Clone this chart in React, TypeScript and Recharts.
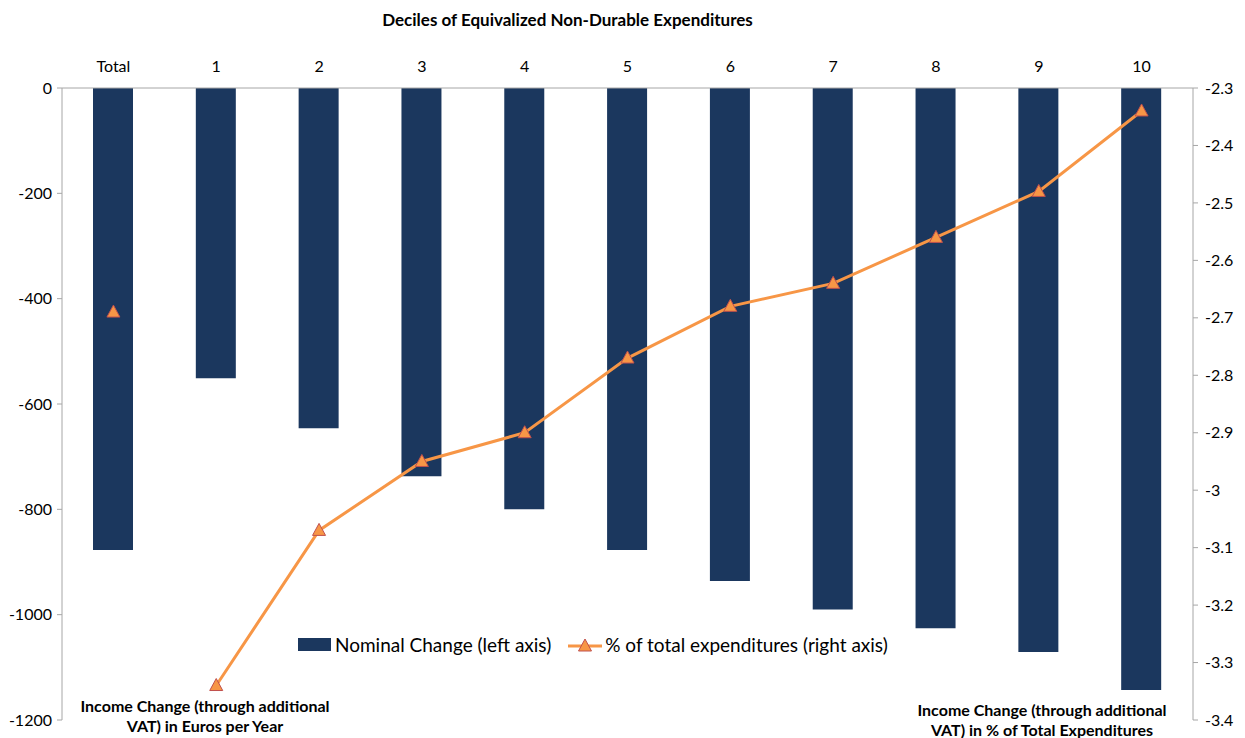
import React from 'react';
import { ComposedChart, Bar, Line, XAxis, YAxis } from 'recharts';

const categories = ['Total', '1', '2', '3', '4', '5', '6', '7', '8', '9', '10'];
const nominalChange = [-877, -551, -646, -737, -800, -877, -936, -990, -1026, -1071, -1143];
const pctOfExpenditures = [-2.69, -3.34, -3.07, -2.95, -2.9, -2.77, -2.68, -2.64, -2.56, -2.48, -2.34];
const leftTicks = [0, -200, -400, -600, -800, -1000, -1200];
const rightTicks = [-2.3, -2.4, -2.5, -2.6, -2.7, -2.8, -2.9, -3, -3.1, -3.2, -3.3, -3.4];

const BAR = '#1b375e';
const LINE = '#f79646';
const MARK_STROKE = '#c0504d';
const AXIS = '#a6a6a6';
const FONT = 'Lato, "Open Sans", sans-serif';

// Total gets its own marker without a connecting segment
const data = categories.map((c, i) => ({
  name: c,
  nominal: nominalChange[i],
  pct: i === 0 ? null : pctOfExpenditures[i],
  totalPct: i === 0 ? pctOfExpenditures[i] : null,
}));

const Triangle = (props: any) => {
  const { cx, cy, value, index } = props;
  if (value == null || cx == null || cy == null) return <g key={`t-${index}`} />;
  return (
    <path
      key={`t-${index}`}
      d={`M${cx},${cy - 7} L${cx + 6.5},${cy + 5} L${cx - 6.5},${cy + 5} Z`}
      fill={LINE}
      stroke={MARK_STROKE}
      strokeWidth={1}
    />
  );
};

const TopTick = (props: any) => {
  const { x, y, payload } = props;
  return (
    <text x={x} y={y - 8} textAnchor="middle" fontSize={16} fill="#000" fontFamily={FONT}>
      {payload.value}
    </text>
  );
};

const textStyle: React.CSSProperties = {
  position: 'absolute',
  fontFamily: FONT,
  fontWeight: 700,
  fontSize: 16,
  color: '#000',
  textAlign: 'center',
  lineHeight: '20px',
  whiteSpace: 'nowrap',
};

export default function App() {
  return (
    <div style={{ position: 'absolute', left: 0, top: 0, width: 1245, height: 738, background: '#fff' }}>
      <ComposedChart
        width={1245}
        height={738}
        data={data}
        margin={{ top: 40, right: 0, bottom: 18, left: 0 }}
        barCategoryGap="30%"
      >
        <XAxis
          dataKey="name"
          xAxisId="x"
          orientation="top"
          height={48}
          stroke={AXIS}
          tickLine={false}
          tick={<TopTick />}
          interval={0}
        />
        <YAxis
          yAxisId="left"
          width={62}
          domain={[-1200, 0]}
          ticks={leftTicks}
          interval={0}
          stroke={AXIS}
          tickSize={5}
          tickMargin={5}
          tick={{ fill: '#000', fontSize: 16, fontFamily: FONT }}
        />
        <YAxis
          yAxisId="right"
          orientation="right"
          width={52}
          domain={[-3.4, -2.3]}
          ticks={rightTicks}
          interval={0}
          stroke={AXIS}
          tickSize={5}
          tickMargin={7}
          tick={{ fill: '#000', fontSize: 16, fontFamily: FONT, textAnchor: 'start' }}
        />
        <Bar xAxisId="x" yAxisId="left" dataKey="nominal" fill={BAR} barSize={40} isAnimationActive={false} />
        <Line
          xAxisId="x"
          yAxisId="right"
          dataKey="pct"
          stroke={LINE}
          strokeWidth={3}
          dot={Triangle}
          activeDot={false}
          isAnimationActive={false}
        />
        <Line
          xAxisId="x"
          yAxisId="right"
          dataKey="totalPct"
          stroke="none"
          dot={Triangle}
          activeDot={false}
          isAnimationActive={false}
        />
      </ComposedChart>

      <div style={{ ...textStyle, left: 0, width: 1135, top: 10, fontSize: 17 }}>
        Deciles of Equivalized Non-Durable Expenditures
      </div>
      <div style={{ ...textStyle, left: 55, width: 300, top: 696 }}>
        Income Change (through additional
        <br />
        VAT) in Euros per Year
      </div>
      <div style={{ ...textStyle, left: 892, width: 300, top: 700 }}>
        Income Change (through additional
        <br />
        VAT) in % of Total Expenditures
      </div>

      <div
        style={{
          position: 'absolute',
          top: 633,
          left: 298,
          display: 'flex',
          alignItems: 'center',
          fontFamily: FONT,
          fontSize: 19,
          color: '#000',
          whiteSpace: 'nowrap',
        }}
      >
        <span style={{ display: 'inline-block', width: 33, height: 13, background: BAR, marginRight: 4 }} />
        <span>Nominal Change (left axis)</span>
        <svg width={34} height={20} style={{ marginLeft: 17, marginRight: 3 }}>
          <line x1={0} y1={11} x2={34} y2={11} stroke={LINE} strokeWidth={3} />
          <path d="M17,4 L23.5,16 L10.5,16 Z" fill={LINE} stroke={MARK_STROKE} strokeWidth={1} />
        </svg>
        <span>% of total expenditures (right axis)</span>
      </div>
    </div>
  );
}
